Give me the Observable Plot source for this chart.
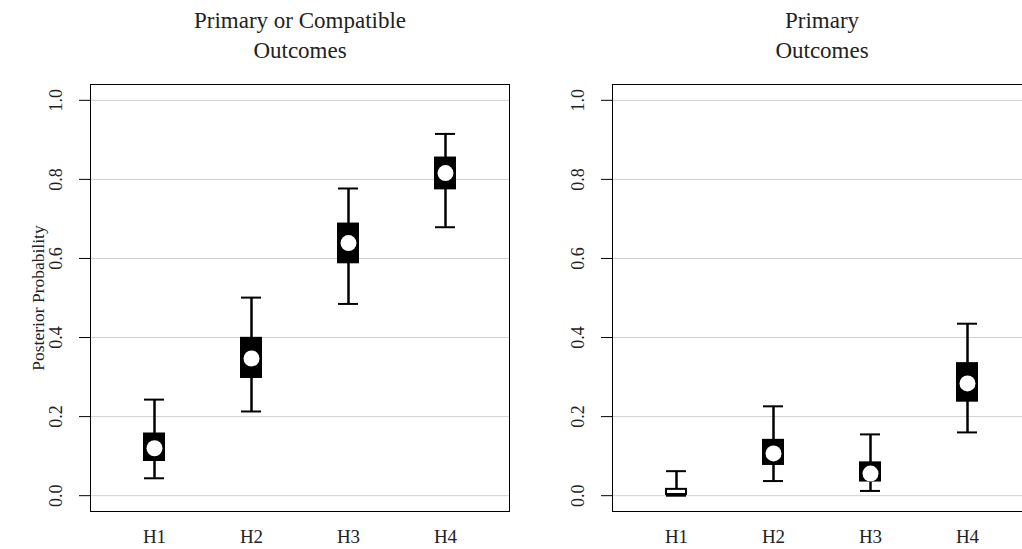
<!DOCTYPE html>
<html>
<head>
<meta charset="utf-8">
<script src="https://cdn.jsdelivr.net/npm/d3@7"></script>
<script src="https://cdn.jsdelivr.net/npm/@observablehq/plot@0.6"></script>
<style>
  html, body { margin: 0; padding: 0; background: #fff; }
  #wrap { width: 1022px; height: 549px; overflow: hidden; display: flex; }
  #wrap svg { flex: none; }
</style>
</head>
<body>
<div id="wrap"></div>
<script>
const hypotheses = ["H1", "H2", "H3", "H4"];
const yTicks = [0, 0.2, 0.4, 0.6, 0.8, 1.0];

// Panel 1: Primary or Compatible Outcomes
const pcLow    = [0.044, 0.213, 0.485, 0.679];
const pcQ1     = [0.089, 0.299, 0.589, 0.776];
const pcMedian = [0.120, 0.347, 0.639, 0.816];
const pcQ3     = [0.156, 0.398, 0.687, 0.854];
const pcHigh   = [0.243, 0.501, 0.777, 0.915];

// Panel 2: Primary Outcomes
const pLow    = [0.000, 0.037, 0.012, 0.160];
const pQ1     = [0.003, 0.079, 0.037, 0.239];
const pMedian = [0.008, 0.107, 0.056, 0.284];
const pQ3     = [0.016, 0.140, 0.083, 0.334];
const pHigh   = [0.062, 0.226, 0.155, 0.435];

function rows(low, q1, med, q3, high) {
  return hypotheses.map((h, i) => ({h, low: low[i], q1: q1[i], med: med[i], q3: q3[i], high: high[i]}));
}

const FONT = "'Liberation Serif', 'DejaVu Serif', serif";

function panel(data, title, ylabel) {
  const small = d => (d.q3 - d.q1) < 0.03;
  const marks = [
    Plot.gridY(yTicks, {stroke: "#d0d0d0", strokeOpacity: 1, strokeWidth: 1}),
    Plot.frame({stroke: "#000", strokeWidth: 1}),
    Plot.axisY(yTicks, {tickSize: 11, tickRotate: -90, tickPadding: 18, tickFormat: d3.format(".1f"), fontSize: 18, fill: "#222", stroke: "#000", label: null}),
    Plot.axisX({tickSize: 0, tickPadding: 18, fontSize: 19, fill: "#222", label: null}),
    Plot.ruleX(data, {x: "h", y1: "low", y2: "high", stroke: "#000", strokeWidth: 2.5}),
    Plot.tickY(data, {x: "h", y: "low", stroke: "#000", strokeWidth: 2, insetLeft: 1, insetRight: 1}),
    Plot.tickY(data, {x: "h", y: "high", stroke: "#000", strokeWidth: 2, insetLeft: 1, insetRight: 1}),
    Plot.barY(data, {x: "h", y1: "q1", y2: "q3", fill: d => small(d) ? "white" : "black", stroke: "#000", strokeWidth: 2, insetLeft: 1, insetRight: 1}),
    Plot.dot(data.filter(d => !small(d)), {x: "h", y: "med", r: 8, fill: "white", stroke: "none"}),
    Plot.text([title], {frameAnchor: "top", dy: -27, lineAnchor: "bottom", lineHeight: 1.3, fontSize: 23, fill: "#222"})
  ];
  if (ylabel) {
    marks.push(Plot.text([ylabel], {frameAnchor: "left", textAnchor: "middle", rotate: -90, dx: -47, lineAnchor: "bottom", fontSize: 17.5, fill: "#222"}));
  }
  return Plot.plot({
    width: 522,
    height: 549,
    marginLeft: 90,
    marginRight: 13,
    marginTop: 84,
    marginBottom: 38,
    style: {fontFamily: FONT, background: "white"},
    x: {type: "band", domain: hypotheses, paddingInner: 0.773, paddingOuter: 0.546, axis: null},
    y: {domain: [-0.04, 1.04], axis: null},
    marks
  });
}

const wrap = document.getElementById("wrap");
wrap.appendChild(panel(rows(pcLow, pcQ1, pcMedian, pcQ3, pcHigh), "Primary or Compatible\nOutcomes", "Posterior Probability"));
wrap.appendChild(panel(rows(pLow, pQ1, pMedian, pQ3, pHigh), "Primary\nOutcomes", null));
</script>
</body>
</html>
